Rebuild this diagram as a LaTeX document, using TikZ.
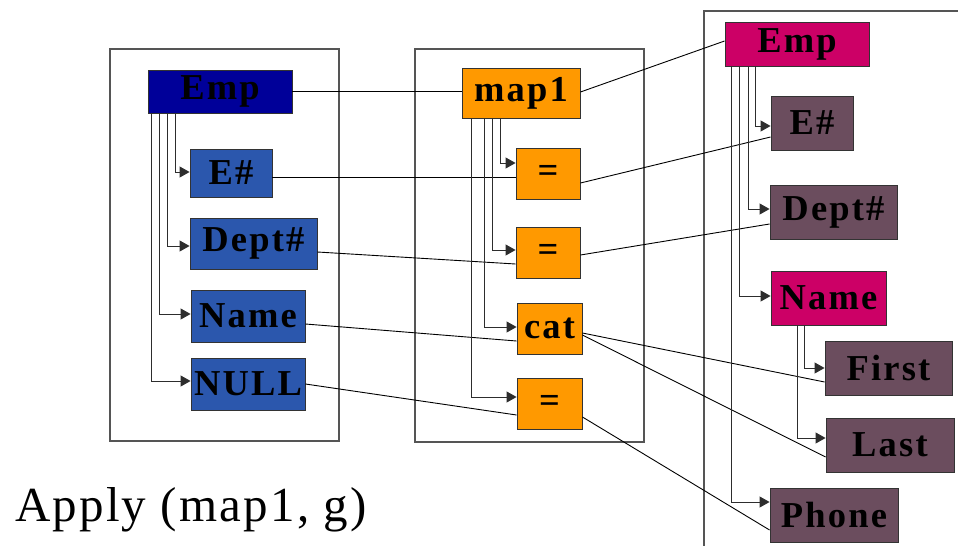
\documentclass[tikz,border=0pt]{standalone}
\usepackage{fontspec}
\setmainfont{Liberation Serif}
\newfontfamily\boxfont[LetterSpace=6]{Liberation Serif}
\newfontfamily\capfont[LetterSpace=4.5]{Liberation Serif}
\usetikzlibrary{arrows.meta}

\definecolor{empblue}{RGB}{0,0,153}
\definecolor{fieldblue}{RGB}{43,87,173}
\definecolor{maporange}{RGB}{255,153,0}
\definecolor{empmagenta}{RGB}{204,0,102}
\definecolor{fieldplum}{RGB}{107,77,94}
\definecolor{framegray}{RGB}{85,85,85}
\definecolor{treegray}{RGB}{45,45,45}

\tikzset{
  box/.style={draw=black!80, line width=0.9pt, inner sep=0pt,
    font=\boxfont\bfseries\fontsize{36.5}{40}\selectfont, text=black},
  frame/.style={draw=framegray, line width=1.1pt},
  link/.style={draw=black, line width=0.9pt},
  tree/.style={draw=treegray, line width=1pt,
    -{Triangle[length=10pt,width=11pt]}},
}

\begin{document}
\begin{tikzpicture}[x=1pt,y=-1pt]
\useasboundingbox[fill=white] (0,0) rectangle (958,546);

% container frames
\draw[frame] (110,49) rectangle (339,441);
\draw[frame] (415,49) rectangle (644,442);
\draw[frame] (958,11) -- (704,11) -- (704,546);

% source structure
\node[box, fill=empblue, minimum width=144pt, minimum height=43pt] (lemp) at (220,91.5) {Emp};
\node[box, fill=fieldblue, minimum width=82pt, minimum height=48pt] (le) at (231,173) {E\#};
\node[box, fill=fieldblue, minimum width=127pt, minimum height=51pt] (ld) at (253.5,243.5) {Dept\#};
\node[box, fill=fieldblue, minimum width=114pt, minimum height=52pt] (ln) at (248,316) {Name};
\node[box, fill=fieldblue, minimum width=114pt, minimum height=52pt] (lnull) at (248,384) {NULL};

% mapping
\node[box, fill=maporange, minimum width=118pt, minimum height=50pt] (map) at (521,93) {map1};
\node[box, fill=maporange, minimum width=64pt, minimum height=51pt] (eqa) at (548,173.5) {=};
\node[box, fill=maporange, minimum width=64pt, minimum height=51pt] (eqb) at (548,252.5) {=};
\node[box, fill=maporange, minimum width=65pt, minimum height=51pt] (cat) at (549.5,328.5) {cat};
\node[box, fill=maporange, minimum width=65pt, minimum height=51pt] (eqc) at (549.5,403.5) {=};

% target structure
\node[box, fill=empmagenta, minimum width=144pt, minimum height=44pt] (remp) at (797,44) {Emp};
\node[box, fill=fieldplum, minimum width=82pt, minimum height=54pt] (re) at (812,123) {E\#};
\node[box, fill=fieldplum, minimum width=127pt, minimum height=54pt] (rd) at (833.5,212) {Dept\#};
\node[box, fill=empmagenta, minimum width=115pt, minimum height=54pt] (rn) at (828.5,298) {Name};
\node[box, fill=fieldplum, minimum width=127pt, minimum height=54pt] (rf) at (888.5,368) {First};
\node[box, fill=fieldplum, minimum width=128pt, minimum height=54pt] (rl) at (890,445) {Last};
\node[box, fill=fieldplum, minimum width=128pt, minimum height=54pt] (rp) at (834,515) {Phone};

% correspondences
\draw[link] (lemp.east) -- (map.west |- lemp.east);
\draw[link] (map.east |- 0,92) -- (remp.west |- 0,41);
\draw[link] (le.east |- 0,177) -- (eqa.west |- 0,177);
\draw[link] (eqa.east |- 0,183) -- (re.west |- 0,137);
\draw[link] (ld.east |- 0,252) -- (eqb.west |- 0,264);
\draw[link] (eqb.east |- 0,255) -- (rd.west |- 0,224);
\draw[link] (ln.east |- 0,324) -- (cat.west |- 0,341);
\draw[link] (lnull.east |- 0,384) -- (eqc.west |- 0,415);
\draw[link] (cat.east |- 0,333) -- (rf.west |- 0,382);
\draw[link] (cat.east |- 0,335) -- (rl.west |- 0,457);
\draw[link] (eqc.east |- 0,417) -- (rp.west |- 0,530);

% source tree
\draw[tree] (lemp.south -| 175,0) |- (le.west |- 0,172);
\draw[tree] (lemp.south -| 167,0) |- (ld.west |- 0,246);
\draw[tree] (lemp.south -| 159,0) |- (ln.west |- 0,314);
\draw[tree] (lemp.south -| 151,0) |- (lnull.west |- 0,381);

% mapping tree
\draw[tree] (map.south -| 500,0) |- (eqa.west |- 0,163);
\draw[tree] (map.south -| 492,0) |- (eqb.west |- 0,250);
\draw[tree] (map.south -| 484,0) |- (cat.west |- 0,327);
\draw[tree] (map.south -| 471,0) |- (eqc.west |- 0,397);

% target tree
\draw[tree] (remp.south -| 755,0) |- (re.west |- 0,126);
\draw[tree] (remp.south -| 748,0) |- (rd.west |- 0,209);
\draw[tree] (remp.south -| 739,0) |- (rn.west |- 0,296);
\draw[tree] (remp.south -| 731,0) |- (rp.west |- 0,502);
\draw[tree] (rn.south -| 804,0) |- (rf.west |- 0,368);
\draw[tree] (rn.south -| 797,0) |- (rl.west |- 0,438);

% caption
\node[anchor=base west, inner sep=0pt, font=\capfont\fontsize{49}{56}\selectfont] (cap) at (15,521) {Apply (map1, g)};
\end{tikzpicture}
\end{document}
